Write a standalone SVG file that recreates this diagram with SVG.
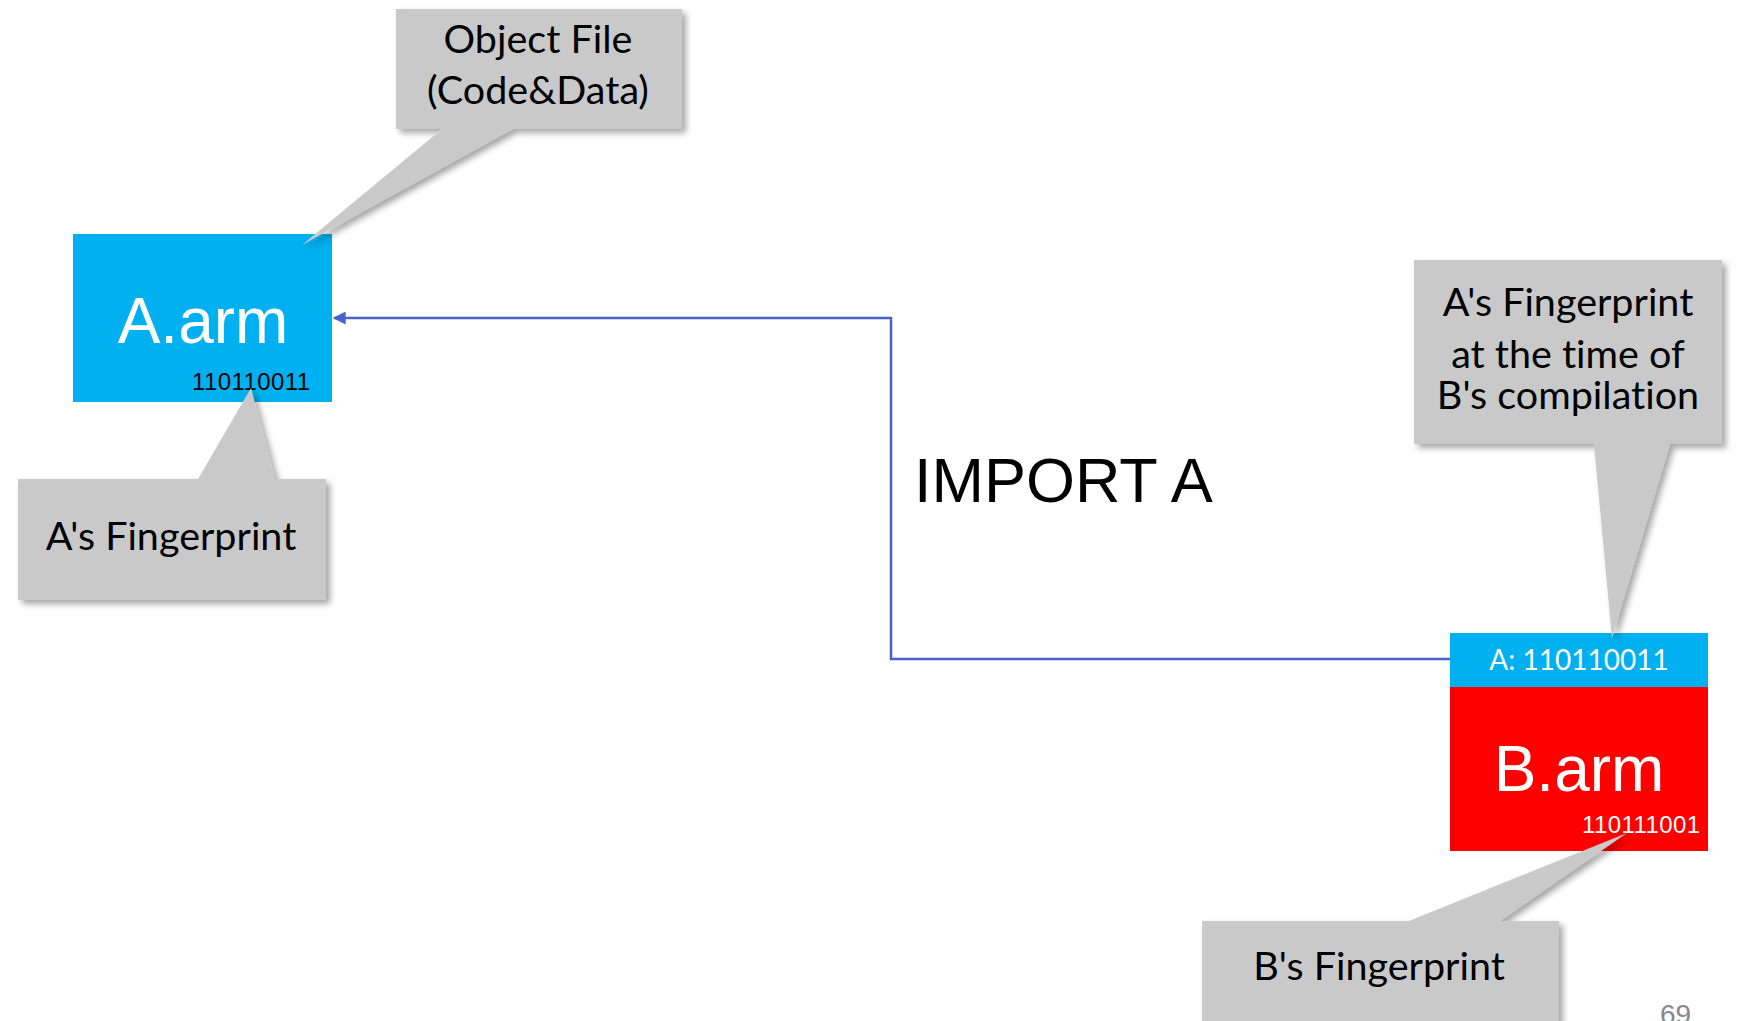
<svg xmlns="http://www.w3.org/2000/svg" width="1740" height="1021" viewBox="0 0 1740 1021">
  <style>
    .box-title { font-family: "Liberation Sans", Arial, sans-serif; font-size: 64px; fill: #ffffff; text-anchor: middle; }
    .box-code { font-family: "Liberation Sans", Arial, sans-serif; font-size: 24px; text-anchor: end; }
    .callout { fill: #c9c9c9; filter: url(#shadow); }
    .callout-text { font-family: Lato, "Open Sans", sans-serif; font-size: 39.5px; fill: #000000; text-anchor: middle; font-variant-ligatures: none; }
    .link { fill: none; stroke: #4a62cc; stroke-width: 2.5; }
  </style>
  <defs>
    <filter id="shadow" x="-10%" y="-10%" width="130%" height="130%">
      <feDropShadow dx="4" dy="4" stdDeviation="3" flood-color="#000000" flood-opacity="0.35"/>
    </filter>
    <marker id="arrow" viewBox="0 0 10 10" refX="9" refY="5" markerWidth="6" markerHeight="5.2" markerUnits="strokeWidth" orient="auto">
      <path d="M0,0 L10,5 L0,10 Z" fill="#4a62cc"/>
    </marker>
  </defs>

  <rect width="1740" height="1021" fill="#ffffff"/>

  <!-- connector: B imports A -->
  <g id="connectors">
    <path class="link" d="M1450,659 H891 V318 H334" marker-end="url(#arrow)"/>
    <text x="914" y="502" font-family="Liberation Sans, Arial, sans-serif" font-size="63" fill="#000000">IMPORT A</text>
  </g>

  <!-- object file A -->
  <g id="node-a">
    <rect x="73" y="234" width="259" height="168" fill="#00b0f0"/>
    <text class="box-title" x="203" y="343">A.arm</text>
    <text class="box-code" x="310" y="390" fill="#000000" textLength="118" lengthAdjust="spacing">110110011</text>
  </g>

  <!-- object file B with its recorded import fingerprint -->
  <g id="node-b">
    <rect x="1450" y="633" width="258" height="54" fill="#00b0f0"/>
    <text x="1579" y="670" font-family="Lato, 'Open Sans', sans-serif" font-size="28" fill="#ffffff" text-anchor="middle">A: 110110011</text>
    <rect x="1450" y="687" width="258" height="164" fill="#ff0000"/>
    <text class="box-title" x="1579" y="791">B.arm</text>
    <text class="box-code" x="1700" y="833" fill="#ffffff" textLength="118" lengthAdjust="spacing">110111001</text>
  </g>

  <!-- callouts -->
  <g id="callout-object-file">
    <path class="callout" d="M396,9 H682 V129 H513 L302,245 L442,129 H396 Z"/>
    <text class="callout-text" x="538" y="53">Object File</text>
    <text class="callout-text" x="538" y="104">(Code&amp;Data)</text>
  </g>

  <g id="callout-a-fingerprint">
    <path class="callout" d="M18,479 H198 L251,388 L275,479 H326 V600 H18 Z"/>
    <text class="callout-text" x="171" y="550">A's Fingerprint</text>
  </g>

  <g id="callout-a-at-compile">
    <path class="callout" d="M1414,260 H1722 V444 H1670 L1612,638 L1594,444 H1414 Z"/>
    <text class="callout-text" x="1568" y="316">A's Fingerprint</text>
    <text class="callout-text" x="1568" y="368">at the time of</text>
    <text class="callout-text" x="1568" y="409">B's compilation</text>
  </g>

  <g id="callout-b-fingerprint">
    <path class="callout" d="M1202,921 H1409 L1627,833 L1500,921 H1559 V1035 H1202 Z"/>
    <text class="callout-text" x="1379" y="980">B's Fingerprint</text>
  </g>

  <!-- page number -->
  <text x="1660" y="1024" font-family="Liberation Sans, Arial, sans-serif" font-size="28" fill="#888888">69</text>
</svg>
